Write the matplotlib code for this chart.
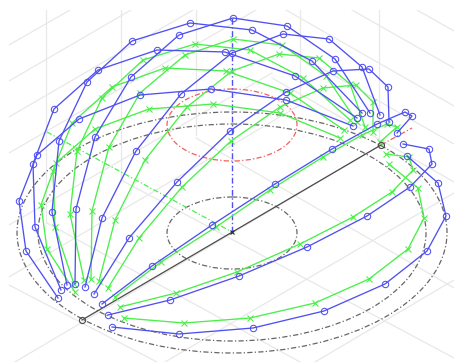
import matplotlib
matplotlib.use("Agg")
import matplotlib.pyplot as plt
from matplotlib.patches import Ellipse, Rectangle

# Picture coordinates (x right, y down)
blue_a = [(112,327),(179,334),(253,328),(324,311),(385,284),(427,251),(446,216),(438,183),(407,156)]
blue_b = [(108,315),(170,300),(239,276),(307,247),(367,216),(410,187),(432,164),(429,149),(403,144)]
blue_c = [(102,304),(152,266),(212,225),(275,184),(332,149),(377,124),(405,112),(412,116),(397,133)]
blue_d = [(94,294),(129,238),(177,182),(230,131),(286,92),(333,71),(369,69),(388,87),(389,122)]
blue_e = [(85,287),(102,218),(136,151),(181,94),(232,53),(283,34),(329,39),(362,67),(380,115)]
blue_f = [(75,284),(76,209),(95,137),(131,77),(179,35),(233,18),(287,26),(335,59),(370,113)]
blue_g = [(67,285),(52,212),(59,141),(87,82),(132,41),(190,23),(252,30),(312,61),(362,113)]
blue_h = [(61,290),(35,227),(33,164),(54,109),(98,70),(157,50),(225,52),(295,76),(357,118)]
blue_i = [(58,298),(26,251),(19,201),(37,155),(79,119),(140,95),(211,89),(286,100),(353,126)]

green_a = [(124,318),(184,323),(250,318),(315,303),(369,279),(408,249),(424,218),(418,188),(389,164)]
green_b = [(120,307),(176,293),(237,272),(300,244),(353,217),(392,192),(413,170),(409,157),(386,154)]
green_c = [(115,297),(161,262),(216,227),(270,190),(323,157),(362,135),(387,124),(397,127),(380,142)]
green_d = [(108,288),(139,238),(182,187),(231,141),(280,107),(323,88),(356,85),(373,102),(373,132)]
green_e = [(99,281),(115,220),(145,160),(187,107),(232,71),(279,54),(319,58),(350,84),(365,127)]
green_f = [(91,279),(92,211),(109,147),(140,93),(185,55),(233,39),(282,45),(326,76),(357,122)]
green_g = [(84,280),(70,214),(77,151),(102,98),(143,60),(195,44),(250,50),(303,78),(350,120)]
green_h = [(74,284),(55,227),(53,171),(72,123),(112,87),(165,68),(226,71),(290,93),(344,130)]
green_i = [(75,292),(47,249),(41,205),(56,163),(95,129),(149,109),(213,104),(280,113),(340,138)]

blue_curves = [blue_a, blue_b, blue_c, blue_d, blue_e, blue_f, blue_g, blue_h, blue_i]
green_curves = [green_a, green_b, green_c, green_d, green_e, green_f, green_g, green_h, green_i]

# Reference geometry: (centre x, centre y, width, height)
black_rings = [(232,232.5,430,241),(232,232.5,388,217),(232,233,130,72)]
red_ring = (232,125,130,72)
black_axis = [(82,320),(381,145)]
red_axis = [(381,145),(412,128)]
green_axis = [(47,132),(232,232)]
blue_axis = [(232,232),(232,18)]
origin = (232,232)

wall_verticals = [46,121,196,300,379]
wall_vertical_feet = [223,180,135,105,148]
left_wall = [((9,45),(70,10)),((9,81),(131,10)),((9,117),(193,10)),((9,153),(256,10)),
             ((9,225),(272,73))]
right_wall = [((272,2),(454,106)),((352,10),(454,68)),((417,10),(454,31)),
              ((272,40),(454,144)),((272,78),(454,182))]
floor_lines = [((196,138),(454,288)),((121,180),(454,358)),((47,223),(300,362)),((9,285),(157,362)),
               ((300,105),(9,277)),((381,145),(15,362)),((454,193),(165,362)),((454,280),(315,362))]

BLUE = "#5050f2"
GREEN = "#48f048"
GRID = "#e8e8e8"
RING = "#666666"
DASH = (0, (4.2, 1.8, 1, 1.8))

fig = plt.figure(figsize=(4.54, 3.62), dpi=100)
ax = fig.add_axes([0, 0, 1, 1])
ax.set_xlim(0, 454)
ax.set_ylim(362, 0)
ax.axis("off")

clip = Rectangle((9, 10), 445, 352, transform=ax.transData)
def seg(a, b, **kw):
    return ax.plot([a[0], b[0]], [a[1], b[1]], **kw)[0]

for x, foot in zip(wall_verticals, wall_vertical_feet):
    seg((x, 10), (x, foot), color=GRID, lw=0.9, zorder=1).set_clip_path(clip)
for a, b in left_wall + right_wall + floor_lines:
    seg(a, b, color=GRID, lw=0.9, zorder=1).set_clip_path(clip)

for cx, cy, w, h in black_rings:
    ax.add_patch(Ellipse((cx, cy), w, h, fill=False, ec=RING, lw=0.9, ls=DASH, zorder=2))
ax.add_patch(Ellipse(red_ring[:2], red_ring[2], red_ring[3], fill=False, ec="#f06060", lw=0.9,
                     ls=DASH, zorder=2))

seg(*black_axis, color="#4a4a4a", lw=0.9, zorder=3)
seg(*red_axis, color="#f06060", lw=0.9, ls=DASH, zorder=3)
seg(*green_axis, color=GREEN, lw=0.9, ls=DASH, zorder=3)
seg(*blue_axis, color=BLUE, lw=1.0, ls=DASH, zorder=3)

for curve in green_curves:
    xs, ys = zip(*curve)
    ax.plot(xs, ys, color=GREEN, lw=0.95, marker="x", ms=4.2, mew=0.75, zorder=4)
for curve in blue_curves:
    xs, ys = zip(*curve)
    ax.plot(xs, ys, color=BLUE, lw=0.95, marker="o", ms=4.6, mew=0.75, mfc="none", zorder=5)

xs, ys = zip(*black_axis)
ax.plot(xs, ys, ls="none", marker="o", ms=4.4, mew=0.8, mfc="none", mec="#4a4a4a", zorder=6)
ax.plot(*origin, marker="x", ms=3.5, mew=0.8, color="#222222", zorder=6)

fig.savefig("out.png", dpi=100)
